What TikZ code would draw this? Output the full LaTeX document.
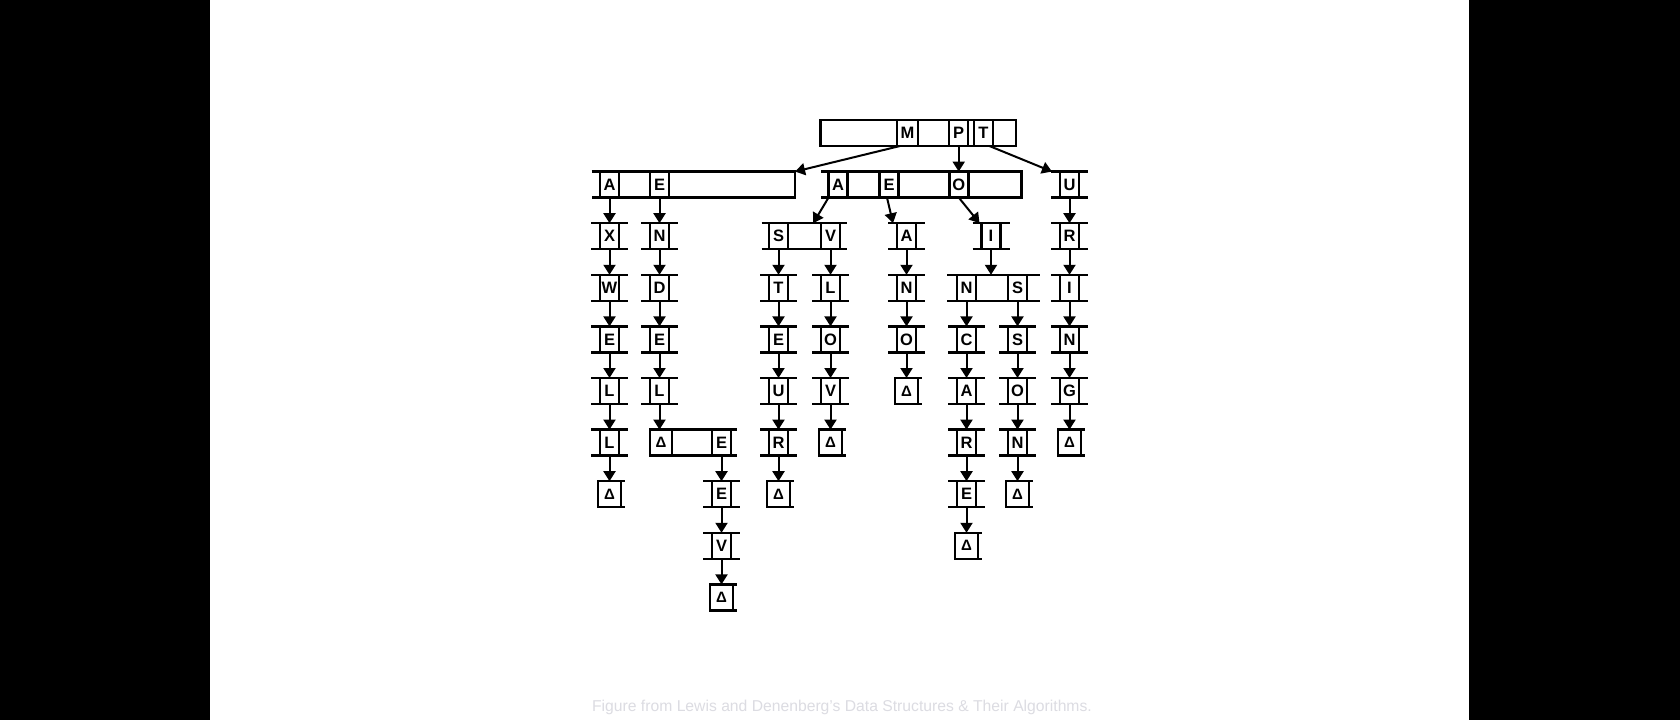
\documentclass[tikz,border=0pt]{standalone}
\usepackage{fontspec}
\setmainfont{Liberation Sans}
\usetikzlibrary{arrows.meta}
\definecolor{captiongray}{RGB}{220,220,226}
\tikzset{
  lw/.style={line width=2.5pt},
  box/.style={draw, lw, minimum width=19pt, minimum height=26pt, inner sep=0pt, outer sep=0pt,
    font=\fontsize{16.5}{18}\selectfont\bfseries},
  cell/.style={box, append after command={
      ([xshift=-9pt]\tikzlastnode.north west) edge[draw,lw] ([xshift=9pt]\tikzlastnode.north east)
      ([xshift=-9pt]\tikzlastnode.south west) edge[draw,lw] ([xshift=9pt]\tikzlastnode.south east)}},
  dcell/.style={box, minimum width=23pt, font=\fontsize{15}{16}\selectfont\bfseries, append after command={
      (\tikzlastnode.north east) edge[draw,lw] ([xshift=4pt]\tikzlastnode.north east)
      (\tikzlastnode.south east) edge[draw,lw] ([xshift=4pt]\tikzlastnode.south east)}},
  strip/.style={minimum height=26pt, inner sep=0pt, outer sep=0pt},
  arr/.style={line width=2pt, -{Triangle[width=12pt,length=10pt]}},
}
\begin{document}
\begin{tikzpicture}[x=1pt,y=-1pt]
\useasboundingbox (0,0) rectangle (1680,720);
\fill[white] (210,0) rectangle (1469,720);
\fill[black] (0,0) rectangle (210,720);
\fill[black] (1469,0) rectangle (1680,720);
% root
\node[strip, draw, lw, minimum width=195.3pt] (root) at (918.35,133) {};
\node[box, minimum width=21pt] (rM) at (907.5,133) {M};
\node[box] (rP) at (958.7,133) {P};
\node[box] (rT) at (983.4,133) {T};
% second level
\node[strip, minimum width=203.3pt] (lft) at (693.35,184.6) {};
\draw[lw] (lft.north west) -- (lft.north east) -- (lft.south east) -- (lft.south west);
\node[box] (lA) at (609.5,184.6) {A};
\node[box] (lE) at (659.5,184.6) {E};
\node[strip, minimum width=200.7pt] (mid) at (921.35,184.6) {};
\draw[lw] (mid.north west) -- (mid.north east) -- (mid.south east) -- (mid.south west);
\node[box] (mA) at (838,184.6) {A};
\node[box] (mE) at (889,184.6) {E};
\node[box] (mO) at (958.8,184.6) {O};
% inner nodes with more than one letter
\node[strip, minimum width=85pt] (sv) at (804.2,236.2) {};
\draw[lw] (sv.north west) -- (sv.north east) (sv.south west) -- (sv.south east);
\node[box] (svS) at (778.5,236.2) {S};
\node[box] (svV) at (830.5,236.2) {V};
\node[cell] (oI) at (991,236.2) {I};
\node[strip, minimum width=93pt] (ns) at (993.5,287.8) {};
\draw[lw] (ns.north west) -- (ns.north east) (ns.south west) -- (ns.south east);
\node[box] (nsN) at (966.5,287.8) {N};
\node[box] (nsS) at (1017.5,287.8) {S};
\node[strip, minimum width=87pt] (de) at (693.5,442.6) {};
\draw[lw] (de.north west) -- (de.north east) (de.south west) -- (de.south east);
\node[box, minimum width=22pt, font=\fontsize{15}{16}\selectfont\bfseries] (deD) at (661,442.6) {Δ};
\node[box] (deE) at (721.5,442.6) {E};
% chains: column / first row / letters / row of the end mark
\foreach \x/\fr/\word/\dr in {600/2/{X,W,E,L,L}/7, 650/2/{N,D,E,L}/0, 712/7/{E,V}/9,
    769/3/{T,E,U,R}/7, 821/3/{L,O,V}/6, 897/2/{A,N,O}/5, 957/4/{C,A,R,E}/8,
    1008/4/{S,O,N}/7, 1060/1/{U,R,I,N,G}/6}{
  \foreach \ch [count=\k from \fr] in \word {
    \node[cell] (n\x-\k) at (\x+9.5,{133+51.6*\k}) {\ch};
    \ifnum\k>\fr
      \pgfmathtruncatemacro\prev{\k-1}
      \draw[arr] (n\x-\prev) -- (n\x-\k);
    \fi
  }
  \ifnum\dr>0
    \pgfmathtruncatemacro\prev{\dr-1}
    \node[dcell] (n\x-\dr) at (\x+9.5,{133+51.6*\dr}) {Δ};
    \draw[arr] (n\x-\prev) -- (n\x-\dr);
  \fi
}
% pointers
\draw[arr] ([xshift=3pt]rM.south west) -- (lft.north east);
\draw[arr] (rP.south) -- (rP.south |- mid.north);
\draw[arr] ([xshift=6pt]rT.south) -- ([xshift=-8pt]n1060-1.north west);
\draw[arr] (lA) -- (n600-2);
\draw[arr] (lE) -- (n650-2);
\draw[arr] (mA.south west) -- ([xshift=9pt]sv.north);
\draw[arr] ([xshift=-2pt]mE.south) -- ([xshift=-4pt]n897-2.north west);
\draw[arr] (mO.south) -- ([xshift=-2pt]oI.north west);
\draw[arr] (svS) -- (n769-3);
\draw[arr] (svV) -- (n821-3);
\draw[arr] (oI) -- (oI |- ns.north);
\draw[arr] (nsN) -- (n957-4);
\draw[arr] (nsS) -- (n1008-4);
\draw[arr] (n650-5.south) -- (n650-5.south |- de.north);
\draw[arr] (deE) -- (n712-7);
\node[text=captiongray, font=\fontsize{15.7}{18}\selectfont] (cap) at (842,707)
  {Figure from Lewis and Denenberg's Data Structures \& Their Algorithms.};
\end{tikzpicture}
\end{document}
